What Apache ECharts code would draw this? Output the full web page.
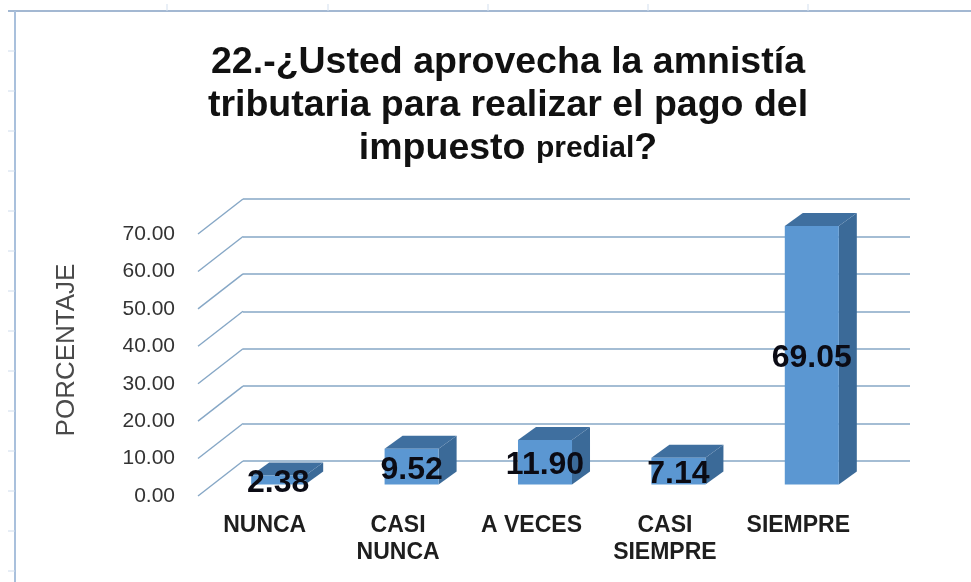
<!DOCTYPE html>
<html><head><meta charset="utf-8">
<style>html,body{margin:0;padding:0;background:#fff}#c{width:971px;height:582px}</style>
<script src="https://cdn.jsdelivr.net/npm/echarts@6/dist/echarts.min.js"></script>
</head><body><div id="c"></div>
<script>
const categories = ['NUNCA', 'CASI\nNUNCA', 'A VECES', 'CASI\nSIEMPRE', 'SIEMPRE'];
const values = [2.38, 9.52, 11.90, 7.14, 69.05];
const yTicks = [0, 10, 20, 30, 40, 50, 60, 70];

const wallDx = 45, wallDy = -35;      // depth of the floor
const barDx = 13.5, barDy = -11.5;    // gap between the front edge and the bar
const depthDx = 18, depthDy = -13;    // depth of one bar
const barShare = 0.405;
const font = '"Liberation Sans", Arial, sans-serif';

function renderBar(params, api) {
  const i = api.value(0), v = api.value(1);
  const base = api.coord([i, 0]), top = api.coord([i, v]);
  const w = api.size([1, 0])[0] * barShare;
  const x0 = base[0] - w / 2 + barDx, x1 = x0 + w;
  const yb = base[1] + barDy, yt = top[1] + barDy;
  const poly = (pts, fill) => ({type: 'polygon', shape: {points: pts}, style: {fill: fill}});
  return {type: 'group', children: [
    poly([[x1, yb], [x1 + depthDx, yb + depthDy], [x1 + depthDx, yt + depthDy], [x1, yt]], '#3b6a98'),
    poly([[x0, yt], [x1, yt], [x1 + depthDx, yt + depthDy], [x0 + depthDx, yt + depthDy]], '#3f6f9f'),
    poly([[x0, yb], [x1, yb], [x1, yt], [x0, yt]], '#5b97d2'),
    {type: 'text', z2: 10, style: {
      text: v.toFixed(2), x: (x0 + x1) / 2, y: (yb + yt) / 2 + 3,
      align: 'center', verticalAlign: 'middle',
      fill: '#0b0b14', font: 'bold 32px ' + font
    }}
  ]};
}

function renderDiagonal(params, api) {
  const p = api.coord([0, api.value(0)]);
  const gx = params.coordSys.x;
  return {type: 'line', shape: {x1: gx, y1: p[1], x2: gx + wallDx, y2: p[1] + wallDy},
    style: {stroke: '#86a7c6', lineWidth: 1.4}};
}

const frame = [];
frame.push({type: 'line', shape: {x1: 8, y1: 11, x2: 971, y2: 11}, style: {stroke: '#a3b8d2', lineWidth: 2}});
frame.push({type: 'line', shape: {x1: 15, y1: 11, x2: 15, y2: 582}, style: {stroke: '#a9c0dc', lineWidth: 2}});
[167, 328, 488, 648, 808].forEach(x => frame.push({type: 'line', shape: {x1: x, y1: 4, x2: x, y2: 11}, style: {stroke: '#d3dfee', lineWidth: 1}}));
[51, 91, 131, 171, 211, 251, 291, 331, 371, 411, 451, 491, 531, 571].forEach(y => frame.push({type: 'line', shape: {x1: 8, y1: y, x2: 15, y2: y}, style: {stroke: '#cfdcec', lineWidth: 1}}));

const option = {
  animation: false,
  backgroundColor: '#fff',
  title: {
    text: '{a|22.-¿Usted aprovecha la amnistía}\n{a|tributaria para realizar el pago del}\n{a|impuesto }{b|predial}{a|?}',
    left: 503, top: 36, textAlign: 'center',
    textStyle: {rich: {
      a: {fontFamily: font, fontWeight: 'bold', fontSize: 37.5, lineHeight: 43, color: '#111'},
      b: {fontFamily: font, fontWeight: 'bold', fontSize: 30, lineHeight: 43, color: '#111'}
    }}
  },
  grid: [
    {left: 198, right: 106, top: 234, bottom: 86},
    {left: 243, right: 61, top: 199, bottom: 121}
  ],
  xAxis: [
    {type: 'category', gridIndex: 0, data: categories, axisLine: {show: false}, axisTick: {show: false},
     axisLabel: {interval: 0, margin: 16, fontFamily: font, fontWeight: 'bold', fontSize: 23, lineHeight: 27, color: '#1e1e1e'}},
    {type: 'category', gridIndex: 1, data: categories, show: false}
  ],
  yAxis: [
    {type: 'value', gridIndex: 0, min: 0, max: 70, interval: 10,
     name: 'PORCENTAJE', nameLocation: 'middle', nameGap: 118, nameRotate: 90,
     nameTextStyle: {fontFamily: font, fontSize: 26, color: '#4a4a4a', padding: [0, 0, 0, 30]},
     axisLine: {show: false}, axisTick: {show: false}, splitLine: {show: false},
     axisLabel: {margin: 23, fontFamily: font, fontSize: 21, color: '#333', formatter: v => v.toFixed(2)}},
    {type: 'value', gridIndex: 1, min: 0, max: 70, interval: 10,
     axisLine: {show: false}, axisTick: {show: false}, axisLabel: {show: false},
     splitLine: {show: true, lineStyle: {color: '#86a7c6', width: 1.6}}}
  ],
  series: [
    {type: 'custom', xAxisIndex: 0, yAxisIndex: 0, renderItem: renderDiagonal, data: yTicks.map(v => [v]), encode: {y: 0}, silent: true, z: 1},
    {type: 'custom', xAxisIndex: 0, yAxisIndex: 0, renderItem: renderBar, data: values.map((v, i) => [i, v]), encode: {x: 0, y: 1}, z: 3}
  ],
  graphic: frame
};
echarts.init(document.getElementById('c'), null, {renderer: 'canvas'}).setOption(option);
</script></body></html>
